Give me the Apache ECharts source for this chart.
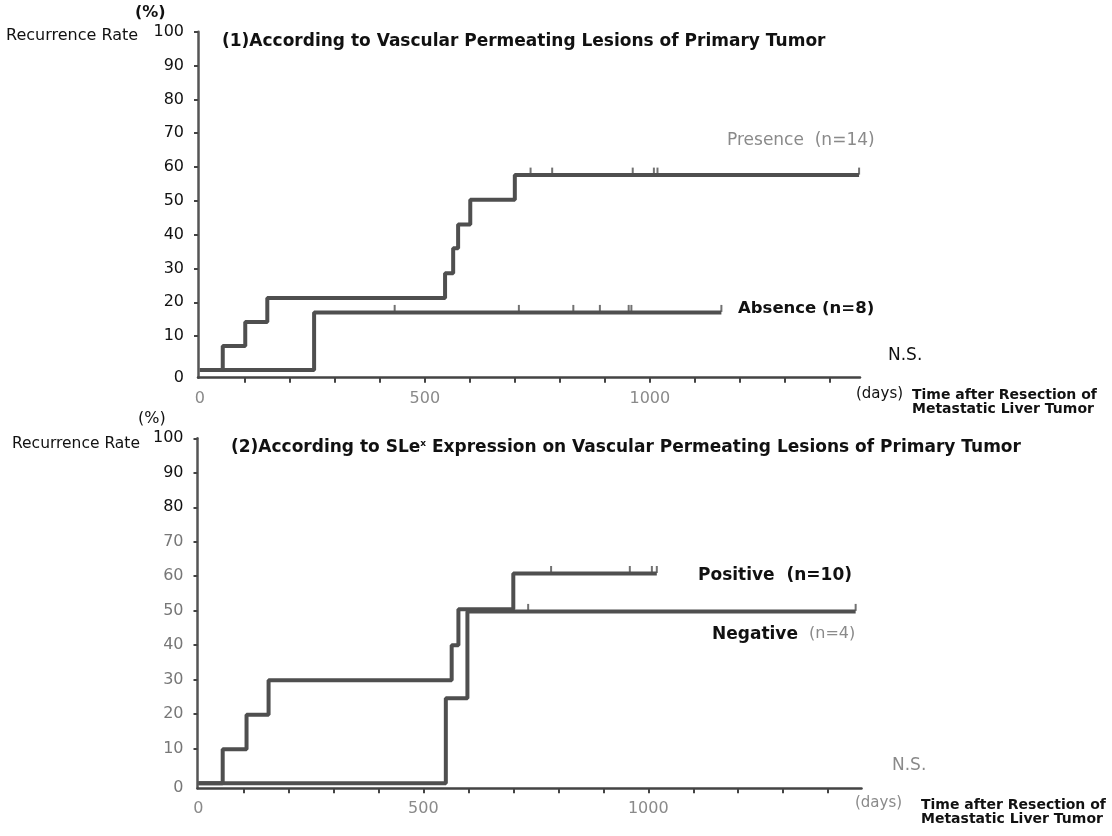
<!DOCTYPE html>
<html lang="en">
<head>
    <meta charset="UTF-8">
    <title>Recurrence Rate</title>
    <style>
        body { margin: 0; padding: 0; background: #fff; }
        #main { width: 1112px; height: 836px; }
    </style>
</head>
<body>
<div id="main"></div>

<script src="https://cdn.jsdelivr.net/npm/echarts@6/dist/echarts.min.js"></script>
<script>
    // (1) vascular permeating lesions of primary tumor
    const presenceDays = [0, 51, 101, 150, 545, 563, 574, 601, 700, 1465];
    const presenceRate = [0, 7.1, 14.2, 21.3, 28.6, 36.0, 43.0, 50.3, 57.6, 57.6];
    const presenceCensor = [735, 783, 962, 1009, 1017, 1465];

    const absenceDays = [0, 254, 1159];
    const absenceRate = [0, 17.0, 17.0];
    const absenceCensor = [433, 709, 830, 889, 953, 959, 1159];

    // (2) SLe-x expression on vascular permeating lesions
    const positiveDays = [0, 54, 107, 156, 563, 578, 700, 1019];
    const positiveRate = [0, 9.8, 19.8, 29.8, 40.0, 50.4, 60.8, 60.8];
    const positiveCensor = [784, 959, 1008, 1019];

    const negativeDays = [0, 550, 598, 1461];
    const negativeRate = [0, 24.6, 49.8, 49.8];
    const negativeCensor = [733, 1461];

    const yTicks = [10, 20, 30, 40, 50, 60, 70, 80, 90, 100];
    const xTicks = [100, 200, 300, 400, 500, 600, 700, 800, 900, 1000, 1100, 1200, 1300, 1400];
    const xLabels = [0, 500, 1000];

    const lineColor = '#4f4f4f';
    const font = "'DejaVu Sans', sans-serif";

    function pairs(xs, ys) {
        return xs.map((x, i) => [x, ys[i]]);
    }
    function censorPts(xs, rate) {
        return xs.map(x => [x, rate]);
    }

    function stepSeries(idx, xs, ys) {
        return {
            type: 'line', xAxisIndex: idx, yAxisIndex: idx,
            step: 'end', showSymbol: false, silent: true,
            lineStyle: { width: 4, color: lineColor },
            data: pairs(xs, ys)
        };
    }
    function censorSeries(idx, xs, rate) {
        return {
            type: 'scatter', xAxisIndex: idx, yAxisIndex: idx, silent: true,
            symbol: 'rect', symbolSize: [2, 7], symbolOffset: [0, -4],
            itemStyle: { color: lineColor },
            data: censorPts(xs, rate)
        };
    }

    function xAxisFor(idx, min, max) {
        return {
            type: 'value', gridIndex: idx, min: min, max: max,
            splitLine: { show: false },
            axisLine: { onZero: false, lineStyle: { color: '#444', width: 2.5 } },
            axisTick: { customValues: xTicks, length: 5, lineStyle: { color: '#444', width: 2 } },
            axisLabel: {
                customValues: xLabels, margin: 13,
                color: '#8a8a8a', fontSize: 16, fontFamily: font,
                formatter: v => String(v)
            }
        };
    }
    function yAxisFor(idx, min, grayFrom) {
        return {
            type: 'value', gridIndex: idx, min: min, max: 100,
            splitLine: { show: false },
            axisLine: { onZero: false, lineStyle: { color: '#555', width: 2.5 } },
            axisTick: { customValues: yTicks, length: 4, lineStyle: { color: '#444', width: 2 } },
            axisLabel: {
                customValues: [min].concat(yTicks), margin: 14,
                fontSize: 16, fontFamily: font, color: '#111',
                formatter: v => {
                    const t = v < 0 ? '0' : String(v);
                    return (v < grayFrom) ? '{g|' + t + '}' : t;
                },
                rich: { g: { color: '#777', fontSize: 16, fontFamily: font } }
            }
        };
    }

    function txt(left, top, text, size, color, weight) {
        return {
            type: 'text', left: left, top: top, silent: true,
            style: {
                text: text, fill: color || '#111',
                font: (weight || 'normal') + ' ' + size + 'px ' + font
            }
        };
    }

    const myChart = echarts.init(document.getElementById('main'));

    const option = {
        animation: false,
        backgroundColor: '#fff',
        title: [
            {
                text: '(1)According to Vascular Permeating Lesions of Primary Tumor',
                left: 217, top: 28,
                textStyle: { fontSize: 17, fontWeight: 'bold', fontFamily: font, color: '#111' }
            },
            {
                text: '(2)According to SLe{sup|x} Expression on Vascular Permeating Lesions of Primary Tumor',
                left: 226, top: 434,
                textStyle: {
                    fontSize: 17, fontWeight: 'bold', fontFamily: font, color: '#111',
                    rich: { sup: { fontSize: 9, fontWeight: 'bold', fontFamily: font, padding: [0, 0, 9, 0] } }
                }
            }
        ],
        grid: [
            { left: 198, top: 31.7, width: 662, height: 346 },
            { left: 197.5, top: 438.3, width: 664, height: 350 }
        ],
        xAxis: [ xAxisFor(0, -4, 1467), xAxisFor(1, -2, 1474) ],
        yAxis: [ yAxisFor(0, -2.3, -100), yAxisFor(1, -1.5, 75) ],
        series: [
            stepSeries(0, absenceDays, absenceRate),
            stepSeries(0, presenceDays, presenceRate),
            censorSeries(0, presenceCensor, presenceRate[presenceRate.length - 1]),
            censorSeries(0, absenceCensor, absenceRate[absenceRate.length - 1]),
            stepSeries(1, negativeDays, negativeRate),
            stepSeries(1, positiveDays, positiveRate),
            censorSeries(1, positiveCensor, positiveRate[positiveRate.length - 1]),
            censorSeries(1, negativeCensor, negativeRate[negativeRate.length - 1])
        ],
        graphic: [
            // upper panel
            txt(135, 5, '(%)', 16, '#111', 'bold'),
            txt(6, 28, 'Recurrence Rate', 16),
            txt(727, 132, 'Presence  (n=14)', 17, '#8a8a8a'),
            txt(738, 300, 'Absence (n=8)', 16.5, '#111', 'bold'),
            txt(888, 347, 'N.S.', 17, '#111'),
            txt(856, 387, '(days)', 15, '#111'),
            txt(912, 388, 'Time after Resection of', 14, '#111', 'bold'),
            txt(912, 402, 'Metastatic Liver Tumor', 14, '#111', 'bold'),
            // lower panel
            txt(138, 411, '(%)', 16, '#111'),
            txt(12, 436, 'Recurrence Rate', 15.5),
            txt(698, 567, 'Positive  (n=10)', 17, '#111', 'bold'),
            txt(712, 626, 'Negative', 17, '#111', 'bold'),
            txt(809, 626, '(n=4)', 16, '#8a8a8a'),
            txt(892, 757, 'N.S.', 17, '#8a8a8a'),
            txt(855, 796, '(days)', 15, '#8a8a8a'),
            txt(921, 798, 'Time after Resection of', 14, '#111', 'bold'),
            txt(921, 812, 'Metastatic Liver Tumor', 14, '#111', 'bold')
        ]
    };

    myChart.setOption(option);
</script>
</body>
</html>
